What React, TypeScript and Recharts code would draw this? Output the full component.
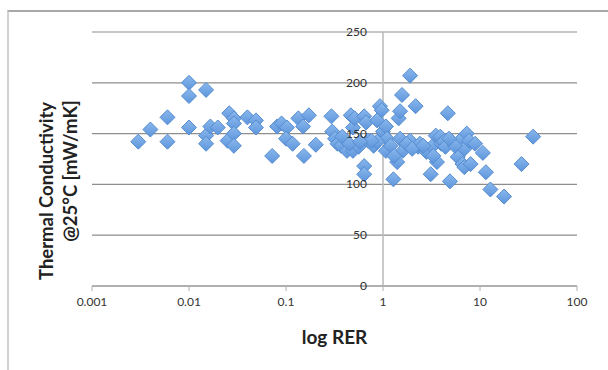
import React from "react";
import {
  ScatterChart,
  Scatter,
  XAxis,
  YAxis,
  CartesianGrid,
  ReferenceLine,
} from "recharts";

// log RER (x) and thermal conductivity @25°C in mW/mK (y)
const RER = [
  0.003, 0.004, 0.006, 0.006, 0.01, 0.01, 0.01, 0.015, 0.015, 0.015, 0.0166, 0.0198,
  0.026, 0.029, 0.029, 0.025, 0.029, 0.029, 0.04, 0.049, 0.049, 0.072, 0.081, 0.09,
  0.102, 0.1, 0.117, 0.134, 0.15, 0.172, 0.153, 0.203, 0.294, 0.3, 0.32, 0.34, 0.37,
  0.425, 0.466, 0.49, 0.51, 0.49, 0.56, 0.64, 0.67, 0.64, 0.64, 0.7, 0.8, 0.87, 0.93,
  0.97, 1.0, 1.07, 1.1, 1.07, 0.87, 0.76, 1.28, 1.4, 1.45, 1.5, 1.57, 1.5, 1.6, 1.9,
  1.9, 2.17, 2.3, 2.4, 2.8, 3.1, 3.2, 3.5, 3.6, 3.9, 4.0, 4.2, 4.4, 4.66, 4.9, 6.2,
  5.9, 6.6, 6.9, 7.3, 7.7, 6.9, 8.0, 8.9, 10.7, 11.5, 12.8, 17.7, 26.8, 35.3,
  0.38, 0.45, 0.58, 1.2, 1.3, 1.75, 2.0, 2.6, 3.3, 5.5, 4.8,
];
const TC = [
  142, 154, 166, 142, 200, 187, 156, 193, 148, 140, 157, 156,
  170, 165, 160, 143, 150, 138, 166, 163, 156, 128, 157, 160,
  156, 145, 140, 165, 157, 168, 128, 139, 167, 152, 145, 140, 138,
  133, 168, 156, 165, 133, 137, 167, 161, 118, 110, 143, 138, 163, 177,
  173, 152, 157, 145, 133, 142, 143, 105, 122, 165, 172, 188, 145, 133, 207,
  143, 177, 137, 140, 132, 110, 137, 148, 122, 147, 140, 142, 137, 170, 103, 143,
  127, 120, 135, 150, 143, 117, 120, 140, 131, 112, 95, 88, 120, 147,
  147, 140, 142, 138, 128, 140, 135, 138, 128, 138, 145,
];
const X_TICKS = [0.001, 0.01, 0.1, 1, 10, 100];
const Y_TICKS = [0, 50, 100, 150, 200, 250];

const data = RER.map((x, i) => ({ x, y: TC[i] }));

const WIDTH = 608;
const HEIGHT = 370;
const PLOT_LEFT = 92;
const PLOT_RIGHT = 577;
// the value axis crosses at x = 1, three decades into the five
const AXIS_X = PLOT_LEFT + ((PLOT_RIGHT - PLOT_LEFT) * 3) / 5;

const FONT = "Lato, 'Open Sans', sans-serif";

function Diamond(props: any) {
  const { cx, cy } = props;
  const r = 7.5;
  return (
    <polygon
      points={`${cx},${cy - r} ${cx + r},${cy} ${cx},${cy + r} ${cx - r},${cy}`}
      fill="url(#markerFill)"
      stroke="#568cd0"
      strokeWidth={1}
    />
  );
}

function YTick(props: any) {
  const { y, payload } = props;
  return (
    <text
      x={AXIS_X - 16}
      y={y + 4}
      textAnchor="end"
      fontSize={12}
      fontFamily={FONT}
      fill="#333"
    >
      {payload.value}
    </text>
  );
}

function YTitle() {
  return (
    <g fontFamily={FONT} fontWeight={700} fontSize={18.5} fill="#222">
      <text x={46} y={191} textAnchor="middle" dominantBaseline="central" transform="rotate(-90 46 191)">
        Thermal Conductivity
      </text>
      <text x={70} y={171} textAnchor="middle" dominantBaseline="central" transform="rotate(-90 70 171)">
        @25°C [mW/mK]
      </text>
    </g>
  );
}

export default function App() {
  return (
    <div
      style={{
        position: "absolute",
        left: 0,
        top: 0,
        width: WIDTH,
        height: HEIGHT,
        background: "#fff",
        overflow: "hidden",
      }}
    >
      <div
        style={{
          position: "absolute",
          left: 7,
          top: 10,
          width: WIDTH,
          height: HEIGHT,
          borderTop: "2px solid #a8a8a8",
          borderLeft: "2px solid #d2d2d2",
        }}
      />
      <div style={{ position: "absolute", left: 0, top: 0 }}>
        <ScatterChart
          width={WIDTH}
          height={HEIGHT}
          margin={{ top: 32, right: WIDTH - PLOT_RIGHT, left: 0, bottom: 0 }}
        >
          <defs>
            <linearGradient id="markerFill" x1="0" y1="0" x2="0" y2="1">
              <stop offset="0%" stopColor="#8ab8ec" />
              <stop offset="100%" stopColor="#5d95dc" />
            </linearGradient>
          </defs>
          <CartesianGrid vertical={false} stroke="#8e8e8e" strokeWidth={1.2} />
          <XAxis
            type="number"
            dataKey="x"
            scale="log"
            domain={[0.001, 100]}
            ticks={X_TICKS}
            tickFormatter={(v: number) => String(v)}
            height={HEIGHT - 286}
            axisLine={{ stroke: "#9a9a9a" }}
            tickLine={{ stroke: "#b0b0b0" }}
            tickSize={5}
            tickMargin={6}
            tick={{ fontSize: 12, fontFamily: FONT, fill: "#333" }}
            allowDataOverflow
          />
          <YAxis
            type="number"
            dataKey="y"
            domain={[0, 250]}
            ticks={Y_TICKS}
            width={PLOT_LEFT}
            axisLine={false}
            tickLine={false}
            tick={<YTick />}
            interval={0}
          />
          <ReferenceLine x={1} stroke="#b8b8b8" strokeWidth={1.5} />
          <Scatter data={data} shape={<Diamond />} isAnimationActive={false} />
          <text
            x={(PLOT_LEFT + PLOT_RIGHT) / 2}
            y={336}
            textAnchor="middle"
            dominantBaseline="central"
            fontFamily={FONT}
            fontWeight={700}
            fontSize={19}
            fill="#222"
          >
            log RER
          </text>
          <YTitle />
        </ScatterChart>
      </div>
    </div>
  );
}
